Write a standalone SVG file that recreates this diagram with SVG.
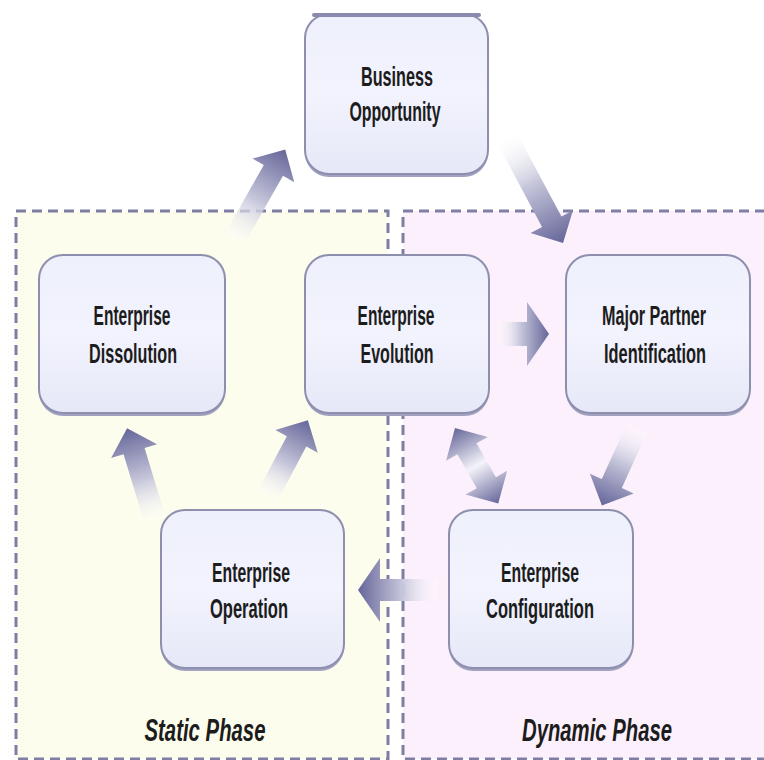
<svg xmlns="http://www.w3.org/2000/svg" width="764" height="760" viewBox="0 0 764 760">
<defs>
<linearGradient id="boxFill" x1="0" y1="0" x2="0" y2="1">
<stop offset="0" stop-color="#eef0fc"/>
<stop offset="0.5" stop-color="#f2f3fd"/>
<stop offset="1" stop-color="#e6e8f8"/>
</linearGradient>
<linearGradient id="arrowGrad" x1="0" y1="0" x2="1" y2="0">
<stop offset="0" stop-color="#ffffff" stop-opacity="0.2"/>
<stop offset="0.45" stop-color="#c4c4da"/>
<stop offset="1" stop-color="#66669a"/>
</linearGradient>
<linearGradient id="dblGrad" x1="0" y1="0" x2="1" y2="0">
<stop offset="0" stop-color="#66669a"/>
<stop offset="0.5" stop-color="#f4f4fa"/>
<stop offset="1" stop-color="#66669a"/>
</linearGradient>
</defs>
<style>
.region{stroke:#7e7ea4;stroke-width:3;stroke-dasharray:10 6}
.box{fill:url(#boxFill);stroke:#8e8eae;stroke-width:2}
.shadow{fill:#a2a2c0}
.topbar{stroke:#8a8aae;stroke-width:4;stroke-linecap:round}
.lbl{font-family:"Liberation Sans",Arial,sans-serif;font-weight:bold;font-size:27px;fill:#1c1c1c;text-anchor:middle}
.phase{font-family:"Liberation Sans",Arial,sans-serif;font-weight:bold;font-style:italic;font-size:32px;fill:#1c1c1c;text-anchor:middle}
.arr{fill:url(#arrowGrad)}
.dbl{fill:url(#dblGrad)}
</style>
<rect width="764" height="760" fill="#ffffff"/>
<g id="static-phase">
<rect x="16" y="211" width="372" height="548" fill="#fdfdee" class="region"/>
<text class="phase" x="205" y="741" textLength="121" lengthAdjust="spacingAndGlyphs">Static Phase</text>
</g>
<g id="dynamic-phase">
<rect x="403" y="211" width="380" height="548" fill="#fcf0fc" class="region"/>
<text class="phase" x="597" y="741" textLength="150" lengthAdjust="spacingAndGlyphs">Dynamic Phase</text>
</g>
<g id="connectors">
<path class="arr" transform="translate(234,240) rotate(-60.5)" d="M0,-11 L80,-11 L80,-24 L104,0 L80,24 L80,11 L0,11 Z"/>
<path class="arr" transform="translate(507,138) rotate(61.9)" d="M0,-11 L95,-11 L95,-24 L119,0 L95,24 L95,11 L0,11 Z"/>
<path class="arr" transform="translate(498,334)" d="M0,-12 L29,-12 L29,-32 L51,0 L29,32 L29,12 L0,12 Z"/>
<path class="arr" transform="translate(637,428) rotate(114.4)" d="M0,-11 L61,-11 L61,-24 L85,0 L61,24 L61,11 L0,11 Z"/>
<path class="dbl" transform="translate(455,428) rotate(60.2)" d="M0,0 L24,-24 L24,-11 L63,-11 L63,-24 L87,0 L63,24 L63,11 L24,11 L24,24 Z"/>
<path class="arr" transform="translate(437,590) rotate(180)" d="M0,-11 L57,-11 L57,-32 L79,0 L57,32 L57,11 L0,11 Z"/>
<path class="arr" transform="translate(155,520) rotate(-106.9)" d="M0,-11 L72,-11 L72,-24 L96,0 L72,24 L72,11 L0,11 Z"/>
<path class="arr" transform="translate(267,497) rotate(-62)" d="M0,-11 L63,-11 L63,-24 L87,0 L63,24 L63,11 L0,11 Z"/>
</g>
<g id="business-opportunity">
<rect class="shadow" x="305" y="17" width="183" height="160" rx="24"/>
<rect class="box" x="305" y="14" width="183" height="160" rx="24"/>
<line class="topbar" x1="314" y1="15" x2="479" y2="15"/>
<text class="lbl" x="397" y="86" textLength="72" lengthAdjust="spacingAndGlyphs">Business</text>
<text class="lbl" x="395" y="121" textLength="91" lengthAdjust="spacingAndGlyphs">Opportunity</text>
</g>
<g id="enterprise-dissolution">
<rect class="shadow" x="39" y="258" width="186" height="158" rx="24"/>
<rect class="box" x="39" y="255" width="186" height="158" rx="24"/>
<text class="lbl" x="132" y="325" textLength="77" lengthAdjust="spacingAndGlyphs">Enterprise</text>
<text class="lbl" x="133" y="363" textLength="88" lengthAdjust="spacingAndGlyphs">Dissolution</text>
</g>
<g id="enterprise-evolution">
<rect class="shadow" x="305" y="258" width="184" height="158" rx="24"/>
<rect class="box" x="305" y="255" width="184" height="158" rx="24"/>
<text class="lbl" x="396" y="325" textLength="77" lengthAdjust="spacingAndGlyphs">Enterprise</text>
<text class="lbl" x="397" y="363" textLength="73" lengthAdjust="spacingAndGlyphs">Evolution</text>
</g>
<g id="major-partner-identification">
<rect class="shadow" x="566" y="258" width="184" height="158" rx="24"/>
<rect class="box" x="566" y="255" width="184" height="158" rx="24"/>
<text class="lbl" x="654" y="325" textLength="104" lengthAdjust="spacingAndGlyphs">Major Partner</text>
<text class="lbl" x="655" y="363" textLength="102" lengthAdjust="spacingAndGlyphs">Identification</text>
</g>
<g id="enterprise-operation">
<rect class="shadow" x="161" y="513" width="183" height="158" rx="24"/>
<rect class="box" x="161" y="510" width="183" height="158" rx="24"/>
<text class="lbl" x="251" y="582" textLength="78" lengthAdjust="spacingAndGlyphs">Enterprise</text>
<text class="lbl" x="249" y="618" textLength="78" lengthAdjust="spacingAndGlyphs">Operation</text>
</g>
<g id="enterprise-configuration">
<rect class="shadow" x="449" y="513" width="184" height="158" rx="24"/>
<rect class="box" x="449" y="510" width="184" height="158" rx="24"/>
<text class="lbl" x="540" y="582" textLength="78" lengthAdjust="spacingAndGlyphs">Enterprise</text>
<text class="lbl" x="540" y="618" textLength="108" lengthAdjust="spacingAndGlyphs">Configuration</text>
</g>
</svg>
